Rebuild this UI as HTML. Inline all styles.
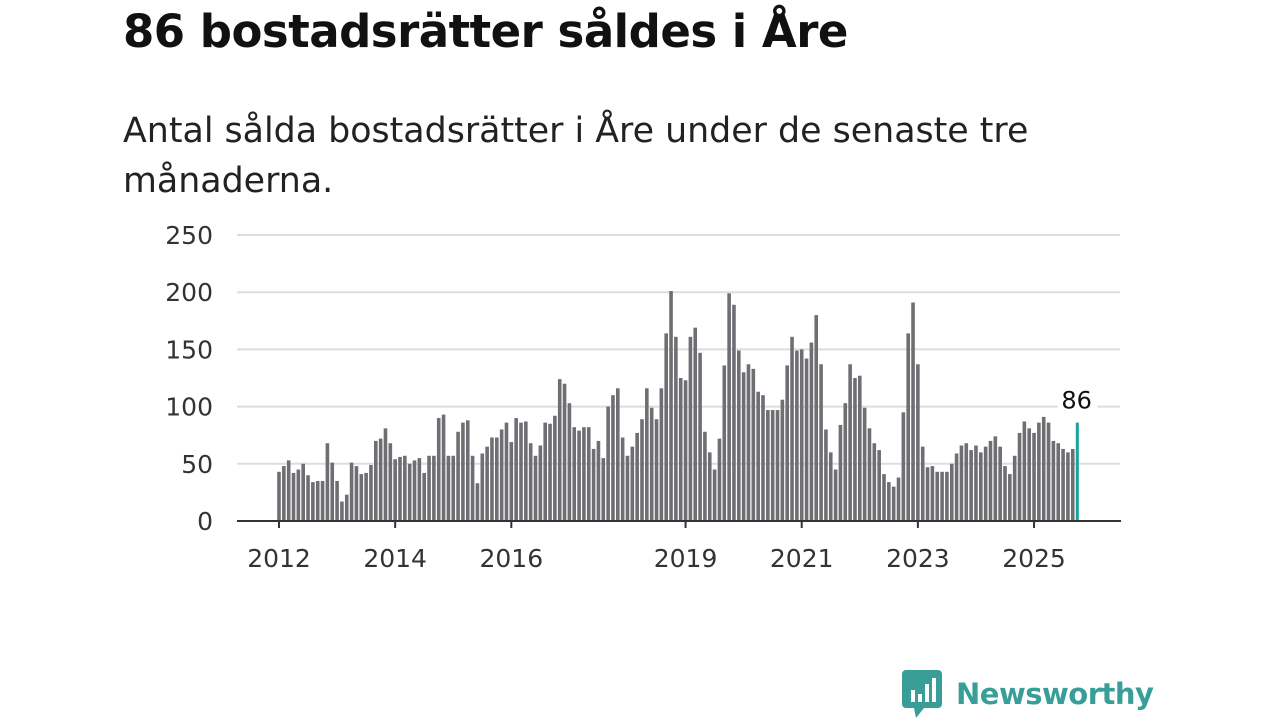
<!DOCTYPE html>
<html><head><meta charset="utf-8"><style>
body{margin:0;width:1280px;height:720px;background:#fff;overflow:hidden;font-family:"Liberation Sans","DejaVu Sans",sans-serif;position:relative}
#title{position:absolute;left:123px;top:5px;font-size:45px;font-weight:bold;color:#111;margin:0;font-family:"DejaVu Sans","Liberation Sans",sans-serif;letter-spacing:-0.5px}
#sub{position:absolute;left:123px;top:106px;font-size:34.8px;line-height:50px;color:#222;width:1000px;font-family:"DejaVu Sans","Liberation Sans",sans-serif}
#logo{position:absolute;left:902px;top:670px;display:flex;align-items:center}
#logo span{font-size:29px;font-weight:bold;color:#3a9e98;margin-left:12px;font-family:"DejaVu Sans",sans-serif;letter-spacing:-0.5px}
</style></head><body>
<h1 id="title">86 bostadsrätter såldes i Åre</h1>
<div id="sub">Antal sålda bostadsrätter i Åre under de senaste tre månaderna.</div>
<svg id="chart" width="1280" height="720" style="position:absolute;left:0;top:0"></svg>
<div id="logo">
<svg width="42" height="48" viewBox="0 0 42 48"><rect x="0" y="0" width="40" height="38" rx="4" fill="#3a9e98"/><polygon points="12,38 22,38 14,48" fill="#3a9e98"/><rect x="9" y="20" width="4" height="12" fill="#fff"/><rect x="16" y="24" width="4" height="8" fill="#fff"/><rect x="23" y="14" width="4" height="18" fill="#fff"/><rect x="30" y="8" width="4" height="24" fill="#fff"/></svg>
<span>Newsworthy</span></div>
<script>
const values = [43,48,53,42,45,50,40,34,35,35,68,51,
35,17,23,51,48,41,42,49,70,72,81,68,
54,56,57,50,53,55,42,57,57,90,93,57,
57,78,86,88,57,33,59,65,73,73,80,86,
69,90,86,87,68,57,66,86,85,92,124,120,
103,82,79,82,82,63,70,55,100,110,116,73,
57,65,77,89,116,99,89,116,164,201,161,125,
123,161,169,147,78,60,45,72,136,199,189,149,
130,137,133,113,110,97,97,97,106,136,161,149,
150,142,156,180,137,80,60,45,84,103,137,125,
127,99,81,68,62,41,34,30,38,95,164,191,
137,65,47,48,43,43,43,50,59,66,68,62,
66,60,65,70,74,65,48,41,57,77,87,81,
77,86,91,86,70,68,63,60,63,86];
const yTicks = [0,50,100,150,200,250];
const xTickYears = [2012,2014,2016,2019,2021,2023,2025];
const startYear = 2012;
const svg = document.getElementById('chart');
const NS='http://www.w3.org/2000/svg';
const y = v => 521 - v*1.144;
const x = i => 279 + i*4.84;
function mk(t,a){const e=document.createElementNS(NS,t);for(const k in a)e.setAttribute(k,a[k]);svg.appendChild(e);return e;}
yTicks.forEach(t=>{
  if(t>0){const g=mk('line',{x1:237,x2:1120,y1:y(t),y2:y(t),stroke:'#ddd','stroke-width':2});
  
  }
  const l=mk('text',{x:213,y:y(t)+9,'text-anchor':'end','font-size':25,fill:'#333','font-family':'DejaVu Sans, sans-serif'});
  l.textContent=t;
  
  
});
values.forEach((v,i)=>{
  const last=i===values.length-1;
  const r=mk('rect',{x:x(i)-1.8,y:y(v),width:last?3:3.6,height:v*1.144,fill:last?'#17a39a':'#6f6e73'});
  
  
});
const ax=mk('line',{x1:237,x2:1121,y1:521,y2:521,stroke:'#333','stroke-width':2});


xTickYears.forEach(yr=>{
  const i=(yr-startYear)*12;
  const tk=mk('line',{x1:x(i),x2:x(i),y1:521,y2:528,stroke:'#333','stroke-width':2});
  
  
  const l=mk('text',{x:x(i),y:567,'text-anchor':'middle','font-size':25,fill:'#333','font-family':'DejaVu Sans, sans-serif'});
  l.textContent=yr;
  
  
});
const li=values.length-1;
const bg=mk('rect',{x:x(li)-20,y:y(values[li])-40,width:40,height:30,fill:'#fff'});


const vl=mk('text',{x:x(li)-1,y:y(values[li])-14,'text-anchor':'middle','font-size':24,fill:'#111','font-family':'DejaVu Sans, sans-serif'});
vl.textContent=values[li];


</script>
</body></html>
